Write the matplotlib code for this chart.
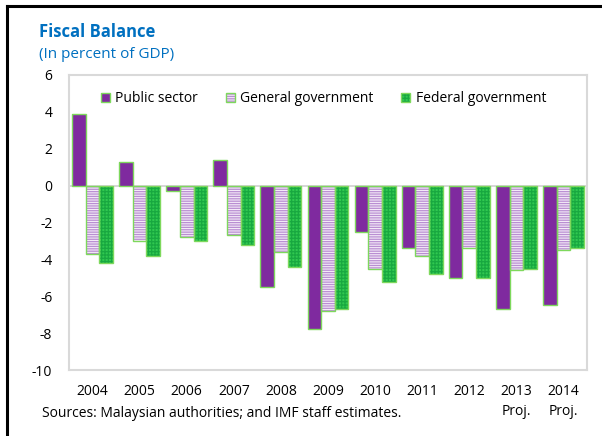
import matplotlib
matplotlib.use("Agg")
import matplotlib.pyplot as plt
import numpy as np
from matplotlib.lines import Line2D
from matplotlib.legend_handler import HandlerTuple

plt.rcParams['font.family'] = ['Open Sans', 'DejaVu Sans']
plt.rcParams['hatch.linewidth'] = 0.9
plt.rcParams['axes.unicode_minus'] = False

years = ['2004', '2005', '2006', '2007', '2008', '2009', '2010', '2011', '2012',
         '2013\nProj.', '2014\nProj.']
public = [3.9, 1.3, -0.3, 1.4, -5.5, -7.8, -2.5, -3.4, -5.0, -6.7, -6.5]
general = [-3.7, -3.0, -2.8, -2.7, -3.6, -6.8, -4.5, -3.8, -3.4, -4.6, -3.5]
federal = [-4.2, -3.8, -3.0, -3.2, -4.4, -6.7, -5.2, -4.8, -5.0, -4.5, -3.4]

names = ['Public sector', 'General government', 'Federal government']
fills = ['#7F2A9F', '#F4EAF8', '#30C850']
hatches = [None, '-------', '+++++']
hatch_cols = ['#7F2A9F', '#B98ED2', '#18A840']
outline = '#7ED85C'

fig = plt.figure(figsize=(6.02, 4.36), dpi=100)
ax = fig.add_axes([69/602, 1 - 370/436, 518/602, 295/436])

x = np.arange(len(years))
w = 0.29
handles = []
for i, vals in enumerate([public, general, federal]):
    pos = x + (i - 1) * w
    b1 = ax.bar(pos, vals, w, color=fills[i], hatch=hatches[i],
                edgecolor=hatch_cols[i], linewidth=0, zorder=2)
    b2 = ax.bar(pos, vals, w, facecolor='none', edgecolor=outline,
                linewidth=1.0, zorder=3)
    handles.append((b1[0], b2[0]))

ax.axhline(0, color='#D0D0D0', linewidth=1.2, zorder=1)
ax.set_xlim(-0.5, len(years) - 0.5)
ax.set_ylim(-10, 6)
ax.set_yticks(range(-10, 7, 2))
ax.set_xticks(x)
ax.set_xticklabels(years, fontsize=10, linespacing=1.45)
ax.tick_params(axis='both', length=0, labelsize=10)
ax.tick_params(axis='y', pad=12)
ax.tick_params(axis='x', pad=10)
for sp in ax.spines.values():
    sp.set_color('#D9D9D9')
    sp.set_linewidth(1.5)

ax.legend(handles, names, handler_map={tuple: HandlerTuple(ndivide=1)},
          loc='center left', bbox_to_anchor=(88/602, 1 - 99/436),
          bbox_transform=fig.transFigure, ncol=3, frameon=False, fontsize=10,
          handlelength=0.65, handleheight=0.65, handletextpad=0.4,
          columnspacing=2.0)

fig.text(39/602, 1 - 32/436, 'Fiscal Balance', color='#0070C0',
         fontsize=12, fontweight='bold', va='center')
fig.text(39/602, 1 - 55/436, '(In percent of GDP)', color='#0070C0',
         fontsize=11, va='center')
fig.text(42/602, 1 - 413/436,
         'Sources: Malaysian authorities; and IMF staff estimates.',
         fontsize=10, va='center')

# frame lines along the top and left edges
fig.add_artist(Line2D([7/602, 1], [1 - 6/436, 1 - 6/436], color='black',
                      linewidth=2.2, transform=fig.transFigure))
fig.add_artist(Line2D([7/602, 7/602], [0, 1 - 6/436], color='black',
                      linewidth=2.2, transform=fig.transFigure))

fig.savefig('out.png', dpi=100)
